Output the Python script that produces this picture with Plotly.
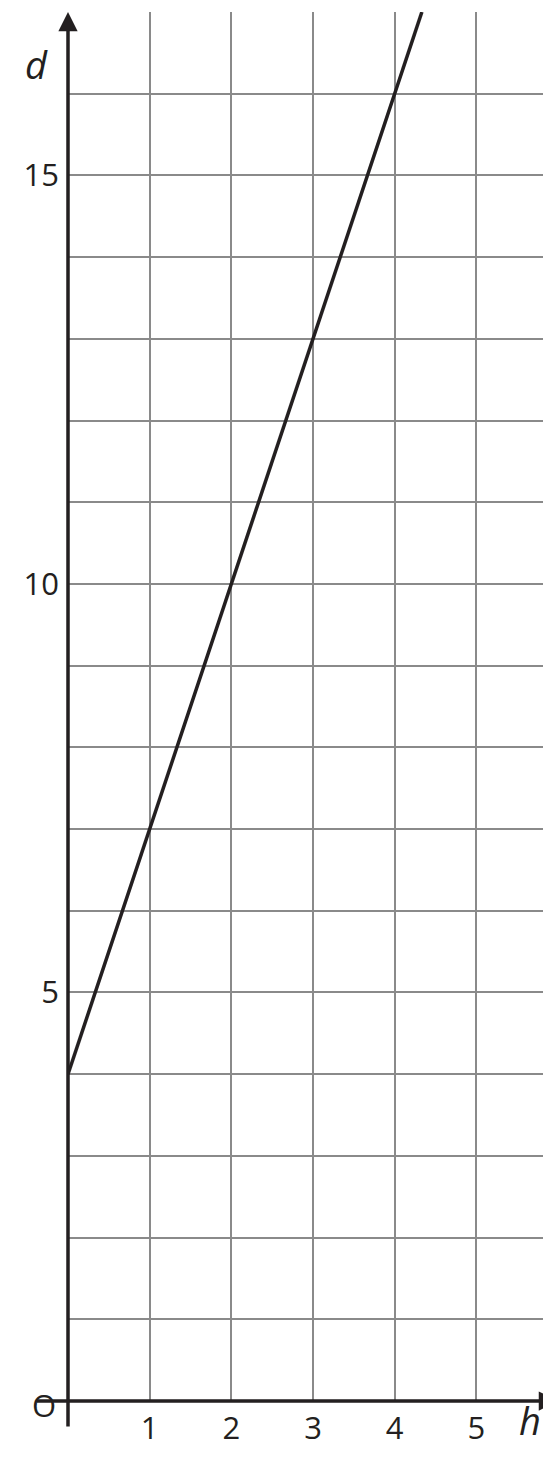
import plotly.graph_objects as go

# line d = 3h + 4
h_vals = [0, 13 / 3]
d_vals = [4, 17]

x_ticks = [1, 2, 3, 4, 5]
y_ticks = [5, 10, 15]
x_max = 6
y_max = 17

fig = go.Figure()
fig.add_trace(go.Scatter(x=h_vals, y=d_vals, mode='lines',
                         line=dict(color='#231f20', width=3.5), cliponaxis=False))

yvals = list(range(0, y_max + 1))
ytext = [str(v) if v in y_ticks else '' for v in yvals]
xvals = list(range(0, x_max + 1))
xtext = [str(v) if v in x_ticks else '' for v in xvals]

fig.update_xaxes(range=[0, x_max], tickvals=xvals, ticktext=xtext, showgrid=True, automargin=False,
                 gridcolor='#8a8a8a', gridwidth=1.5, zeroline=False, showline=False,
                 tickfont=dict(size=31, color='#231f20', family='Open Sans'), ticks='', ticklabelstandoff=6)
fig.update_yaxes(range=[0, y_max], tickvals=yvals, ticktext=ytext, showgrid=True, automargin=False,
                 gridcolor='#8a8a8a', gridwidth=1.5, zeroline=False, showline=False,
                 tickfont=dict(size=31, color='#231f20', family='Open Sans'), ticks='', ticklabelstandoff=8)

# axis arrows
fig.add_annotation(x=x_max, y=0, ax=-0.4, ay=0, xref='x', yref='y', axref='x', ayref='y',
                   showarrow=True, arrowhead=2, arrowsize=1.1, arrowwidth=3.5, arrowcolor='#231f20', text='')
fig.add_annotation(x=0, y=y_max, ax=0, ay=-0.33, xref='x', yref='y', axref='x', ayref='y',
                   showarrow=True, arrowhead=2, arrowsize=1.1, arrowwidth=3.5, arrowcolor='#231f20', text='')

fig.add_annotation(x=-0.078, y=-0.0194, xref='paper', yref='paper', text='O', showarrow=False,
                   font=dict(size=31, color='#231f20', family='Open Sans'))
fig.add_annotation(x=0.969, y=-0.034, xref='paper', yref='paper', text='<i>h</i>', showarrow=False,
                   font=dict(size=38, color='#231f20', family='Open Sans'))
fig.add_annotation(x=-0.092, y=0.983, xref='paper', yref='paper', text='<i>d</i>', showarrow=False,
                   font=dict(size=38, color='#231f20', family='Open Sans'))

fig.update_layout(width=551, height=1469, margin=dict(l=60, r=1, t=4, b=76, autoexpand=False),
                  plot_bgcolor='white', paper_bgcolor='white', showlegend=False)

fig.write_html("out.html")
